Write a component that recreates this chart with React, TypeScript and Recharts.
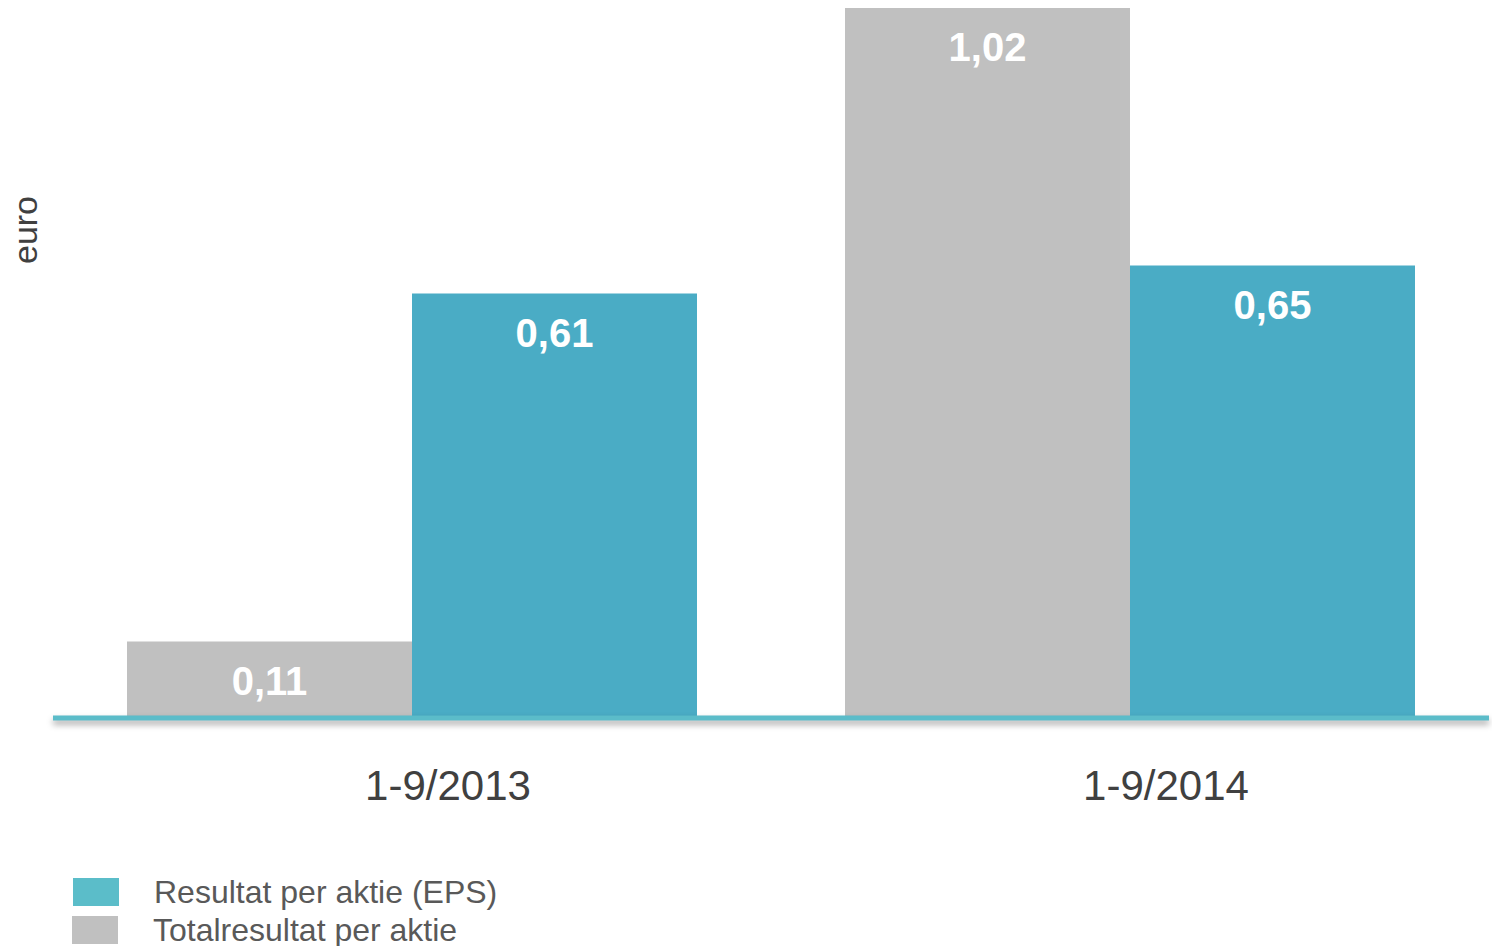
import React from 'react';
import { BarChart, Bar, XAxis, YAxis, LabelList } from 'recharts';

// Values
const periods = ['1-9/2013', '1-9/2014'];
const totalPerShare = [0.11, 1.02];
const epsPerShare = [0.61, 0.65];

const series = [
  { key: 'total', name: 'Totalresultat per aktie', color: '#c0c0c0', legendColor: '#c0c0c0' },
  { key: 'eps', name: 'Resultat per aktie (EPS)', color: '#4aacc5', legendColor: '#5bbdc9' },
];
const legendOrder = ['eps', 'total'];

const data = periods.map((p, i) => ({
  period: p,
  total: totalPerShare[i],
  eps: epsPerShare[i],
}));

const fmt = (v: any) => Number(v).toFixed(2).replace('.', ',');

const FONT = '"Liberation Sans", Arial, sans-serif';

const EuroLabel = (props: any) => {
  const { viewBox } = props;
  const x = viewBox.x + 25;
  const y = 230;
  return (
    <text
      x={x}
      y={y}
      transform={`rotate(-90 ${x} ${y})`}
      textAnchor="middle"
      dominantBaseline="central"
      fill="#404040"
      fontSize={34}
      fontFamily={FONT}
    >
      euro
    </text>
  );
};

const App: React.FC = () => {
  return (
    <div style={{ position: 'absolute', left: 0, top: 0, width: 1492, height: 946, background: '#fff', fontFamily: FONT }}>
      <BarChart
        width={1492}
        height={946}
        data={data}
        margin={{ top: 8, right: 3, bottom: 148, left: 0 }}
        barCategoryGap={74}
        barGap={0}
      >
        <XAxis
          dataKey="period"
          height={80}
          tickLine={false}
          axisLine={{
            stroke: '#5bbcc9',
            strokeWidth: 5,
            style: { filter: 'drop-shadow(0px 4px 3px rgba(0,0,0,0.35))' },
          }}
          tick={{ fill: '#404040', fontSize: 42, fontFamily: FONT, dx: 36 }}
          tickMargin={46}
        />
        <YAxis
          width={53}
          domain={[0, 1.02]}
          tick={false}
          axisLine={false}
          tickLine={false}
          label={<EuroLabel />}
        />
        {series.map((s) => (
          <Bar key={s.key} dataKey={s.key} name={s.name} fill={s.color} isAnimationActive={false}>
            <LabelList
              dataKey={s.key}
              position="insideTop"
              offset={25}
              formatter={fmt}
              fill="#ffffff"
              fontSize={40}
              fontWeight="bold"
              fontFamily={FONT}
            />
          </Bar>
        ))}
      </BarChart>
      {legendOrder.map((k, i) => {
        const s = series.find((x) => x.key === k)!;
        return (
          <div
            key={k}
            style={{
              position: 'absolute',
              left: 73 - i,
              top: 878 + i * 38,
              height: 28,
              display: 'flex',
              alignItems: 'center',
            }}
          >
            <div style={{ width: 46, height: 28, background: s.legendColor }} />
            <span style={{ marginLeft: 35, fontSize: 32, color: '#595959', whiteSpace: 'nowrap', lineHeight: '28px' }}>
              {s.name}
            </span>
          </div>
        );
      })}
    </div>
  );
};

export default App;
